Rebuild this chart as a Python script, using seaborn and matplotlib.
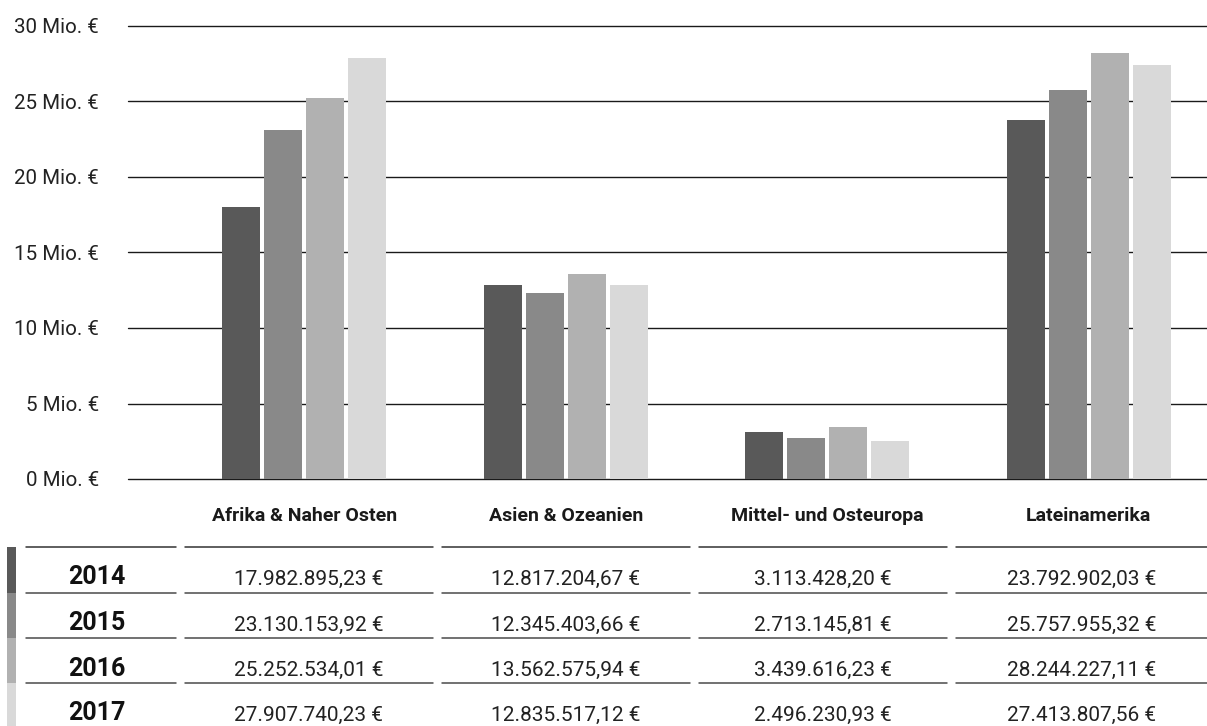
import matplotlib.pyplot as plt
import pandas as pd
import seaborn as sns

regions = ["Afrika & Naher Osten", "Asien & Ozeanien", "Mittel- und Osteuropa", "Lateinamerika"]
years = ["2014", "2015", "2016", "2017"]
values_2014 = [17982895.23, 12817204.67, 3113428.20, 23792902.03]
values_2015 = [23130153.92, 12345403.66, 2713145.81, 25757955.32]
values_2016 = [25252534.01, 13562575.94, 3439616.23, 28244227.11]
values_2017 = [27907740.23, 12835517.12, 2496230.93, 27413807.56]
y_ticks = [0, 5, 10, 15, 20, 25, 30]
colors = ["#595959", "#898989", "#b1b1b1", "#d9d9d9"]

all_values = [values_2014, values_2015, values_2016, values_2017]
rows = []
for year, vals in zip(years, all_values):
    for region, v in zip(regions, vals):
        rows.append({"Region": region, "Jahr": year, "Mio": v / 1e6})
df = pd.DataFrame(rows)


def fmt_eur(v):
    s = f"{v:,.2f}"
    s = s.replace(",", "X").replace(".", ",").replace("X", ".")
    return s + " €"


sns.set_style("white")
plt.rcParams["font.family"] = ["Roboto", "DejaVu Sans"]
plt.rcParams["text.color"] = "#222222"

W, H = 1207, 726
fig = plt.figure(figsize=(W / 100, H / 100), dpi=100)

ax = fig.add_axes([128 / W, 1 - 479 / H, 1 - 128 / W, (479 - 26) / H])
sns.barplot(
    data=df, x="Region", y="Mio", hue="Jahr", order=regions, hue_order=years,
    palette=colors, width=0.644, gap=0.1, ax=ax, legend=False, saturation=1,
    linewidth=0, zorder=3,
)
ax.set_ylim(0, 30)
ax.set_xlim(-0.674, 3.452)
ax.set_yticks(y_ticks)
ax.set_yticklabels([f"{t} Mio. €" for t in y_ticks], fontsize=14.8, color="#222222")
ax.tick_params(axis="y", length=0, pad=21)
ax.tick_params(axis="x", length=0, pad=20)
ax.set_xticks(range(len(regions)))
ax.set_xticklabels(regions, fontsize=14, fontweight="bold", color="#1a1a1a")
ax.set_xlabel("")
ax.set_ylabel("")
for y in y_ticks:
    ax.axhline(y, color="#1a1a1a", linewidth=1.0, zorder=1, clip_on=False)
for s in ax.spines.values():
    s.set_visible(False)

# table below the chart, in pixel coordinates
tab = fig.add_axes([0, 0, 1, (H - 500) / H])
tab.set_xlim(0, W)
tab.set_ylim(H, 500)
tab.axis("off")

col_spans = [(26, 176), (185, 433), (442, 690), (699, 947), (956, 1207)]
line_ys = [547, 593, 638, 683]
row_h = 45.5
for ly in line_ys:
    for x0, x1 in col_spans:
        tab.plot([x0, x1], [ly, ly], color="#333333" if ly == 547 else "#4a4a4a", linewidth=1.1)

for i, (year, vals) in enumerate(zip(years, all_values)):
    top = line_ys[i]
    bottom = top + row_h if i < 3 else H
    tab.fill_between([7, 16], top, bottom, color=colors[i], linewidth=0)
    yc = top + 37.5
    tab.text(97, yc, year, ha="center", va="baseline", fontsize=18, fontweight="bold", color="#111111")
    for j, v in enumerate(vals):
        x0, x1 = col_spans[j + 1]
        tab.text((x0 + x1) / 2, yc, fmt_eur(v), ha="center", va="baseline", fontsize=15, color="#222222")

fig.savefig("out.png", dpi=100)
